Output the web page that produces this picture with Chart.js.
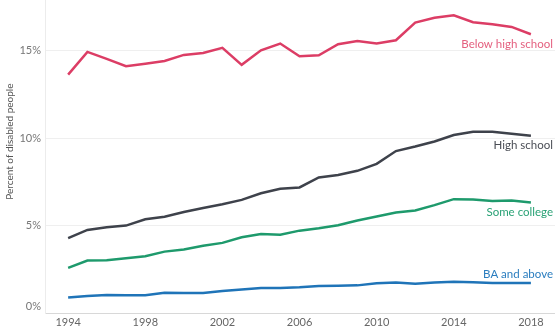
<!DOCTYPE html>
<html>
<head>
<meta charset="utf-8">
<script src="https://cdn.jsdelivr.net/npm/chart.js@4/dist/chart.umd.min.js"></script>
<style>
  html, body { margin: 0; padding: 0; background: #fff; }
  #wrap { width: 555px; height: 331px; position: relative; }
</style>
</head>
<body>
<div id="wrap"><canvas id="chart"></canvas></div>
<script>
const years = [1994, 1995, 1996, 1997, 1998, 1999, 2000, 2001, 2002, 2003, 2004, 2005,
  2006, 2007, 2008, 2009, 2010, 2011, 2012, 2013, 2014, 2015, 2016, 2017, 2018];

const belowHighSchool = [13.63, 14.93, 14.53, 14.11, 14.26, 14.41, 14.76, 14.87, 15.16, 14.19, 15.02, 15.41,
  14.68, 14.74, 15.37, 15.56, 15.41, 15.6, 16.61, 16.88, 17.03, 16.63, 16.51, 16.36, 15.94];
const highSchool = [4.28, 4.75, 4.91, 5.0, 5.36, 5.51, 5.78, 6.01, 6.22, 6.47, 6.85, 7.1,
  7.18, 7.75, 7.89, 8.13, 8.53, 9.26, 9.52, 9.81, 10.18, 10.37, 10.37, 10.25, 10.14];
const someCollege = [2.58, 3.0, 3.02, 3.13, 3.25, 3.51, 3.63, 3.84, 4.01, 4.33, 4.52, 4.47,
  4.71, 4.85, 5.02, 5.29, 5.52, 5.75, 5.86, 6.17, 6.51, 6.49, 6.41, 6.43, 6.32];
const baAndAbove = [0.88, 0.97, 1.03, 1.01, 1.01, 1.16, 1.15, 1.15, 1.26, 1.34, 1.43, 1.43,
  1.47, 1.55, 1.56, 1.58, 1.70, 1.74, 1.68, 1.74, 1.79, 1.76, 1.72, 1.72, 1.72];

const xTicks = [1994, 1998, 2002, 2006, 2010, 2014, 2018];
const yTicks = [0, 5, 10, 15];

const series = [
  { name: 'Below high school', values: belowHighSchool, color: '#dc3d65', text: '#e4607f', dy: 10 },
  { name: 'High school', values: highSchool, color: '#3e424b', text: '#4a4d55', dy: 10 },
  { name: 'Some college', values: someCollege, color: '#1e9a6c', text: '#2aa276', dy: 10 },
  { name: 'BA and above', values: baAndAbove, color: '#1f74b8', text: '#2a7dbf', dy: -9 }
];

// end-of-line labels + y axis title
const labelPlugin = {
  id: 'endLabels',
  afterDatasetsDraw(chart) {
    const ctx = chart.ctx;
    const area = chart.chartArea;
    ctx.save();
    ctx.font = '11.5px Lato';
    ctx.textAlign = 'right';
    ctx.textBaseline = 'middle';
    series.forEach((s, i) => {
      const meta = chart.getDatasetMeta(i);
      const last = meta.data[meta.data.length - 1];
      ctx.fillStyle = s.text;
      ctx.fillText(s.name, area.right - 2, last.y + s.dy);
    });
    ctx.translate(10, chart.scales.y.getPixelForValue(9.8));
    ctx.rotate(-Math.PI / 2);
    ctx.textAlign = 'center';
    ctx.font = '10px Lato';
    ctx.fillStyle = '#555';
    ctx.fillText('Percent of disabled people', 0, 0);
    ctx.restore();
  }
};

new Chart(document.getElementById('chart'), {
  type: 'line',
  data: {
    datasets: series.map(s => ({
      label: s.name,
      data: years.map((y, i) => ({ x: y, y: s.values[i] })),
      borderColor: s.color,
      borderWidth: 2.5,
      pointRadius: 0,
      tension: 0,
      fill: false
    }))
  },
  options: {
    responsive: true,
    maintainAspectRatio: false,
    animation: false,
    layout: { padding: 0 },
    plugins: { legend: { display: false }, tooltip: { enabled: false } },
    scales: {
      x: {
        type: 'linear',
        min: 1992.8,
        max: 2019.25,
        afterBuildTicks: scale => { scale.ticks = xTicks.map(v => ({ value: v })); },
        afterFit: scale => {
          scale.height = 18;
          scale.paddingLeft = 0;
          scale.paddingRight = 0;
        },
        grid: { display: false, drawTicks: false },
        border: { display: true, color: '#d8d8d8', dash: [3, 3], width: 1 },
        ticks: {
          padding: 3,
          color: '#666',
          font: { family: 'Lato', size: 11 },
          callback: v => String(v)
        }
      },
      y: {
        min: 0,
        max: 17.9,
        afterBuildTicks: scale => { scale.ticks = yTicks.map(v => ({ value: v })); },
        afterFit: scale => {
          scale.width = 45;
          scale.paddingTop = 0;
          scale.paddingBottom = 0;
        },
        grid: {
          drawTicks: false,
          color: ctx => ctx.tick && ctx.tick.value === 0 ? 'rgba(0,0,0,0)' : '#efefef'
        },
        border: { display: true, color: '#ececec', width: 1 },
        ticks: {
          padding: 4,
          color: '#777',
          font: { family: 'Lato', size: 11 },
          callback: v => v === 0 ? ['0%', ''] : v + '%'
        }
      }
    }
  },
  plugins: [labelPlugin]
});
</script>
</body>
</html>
